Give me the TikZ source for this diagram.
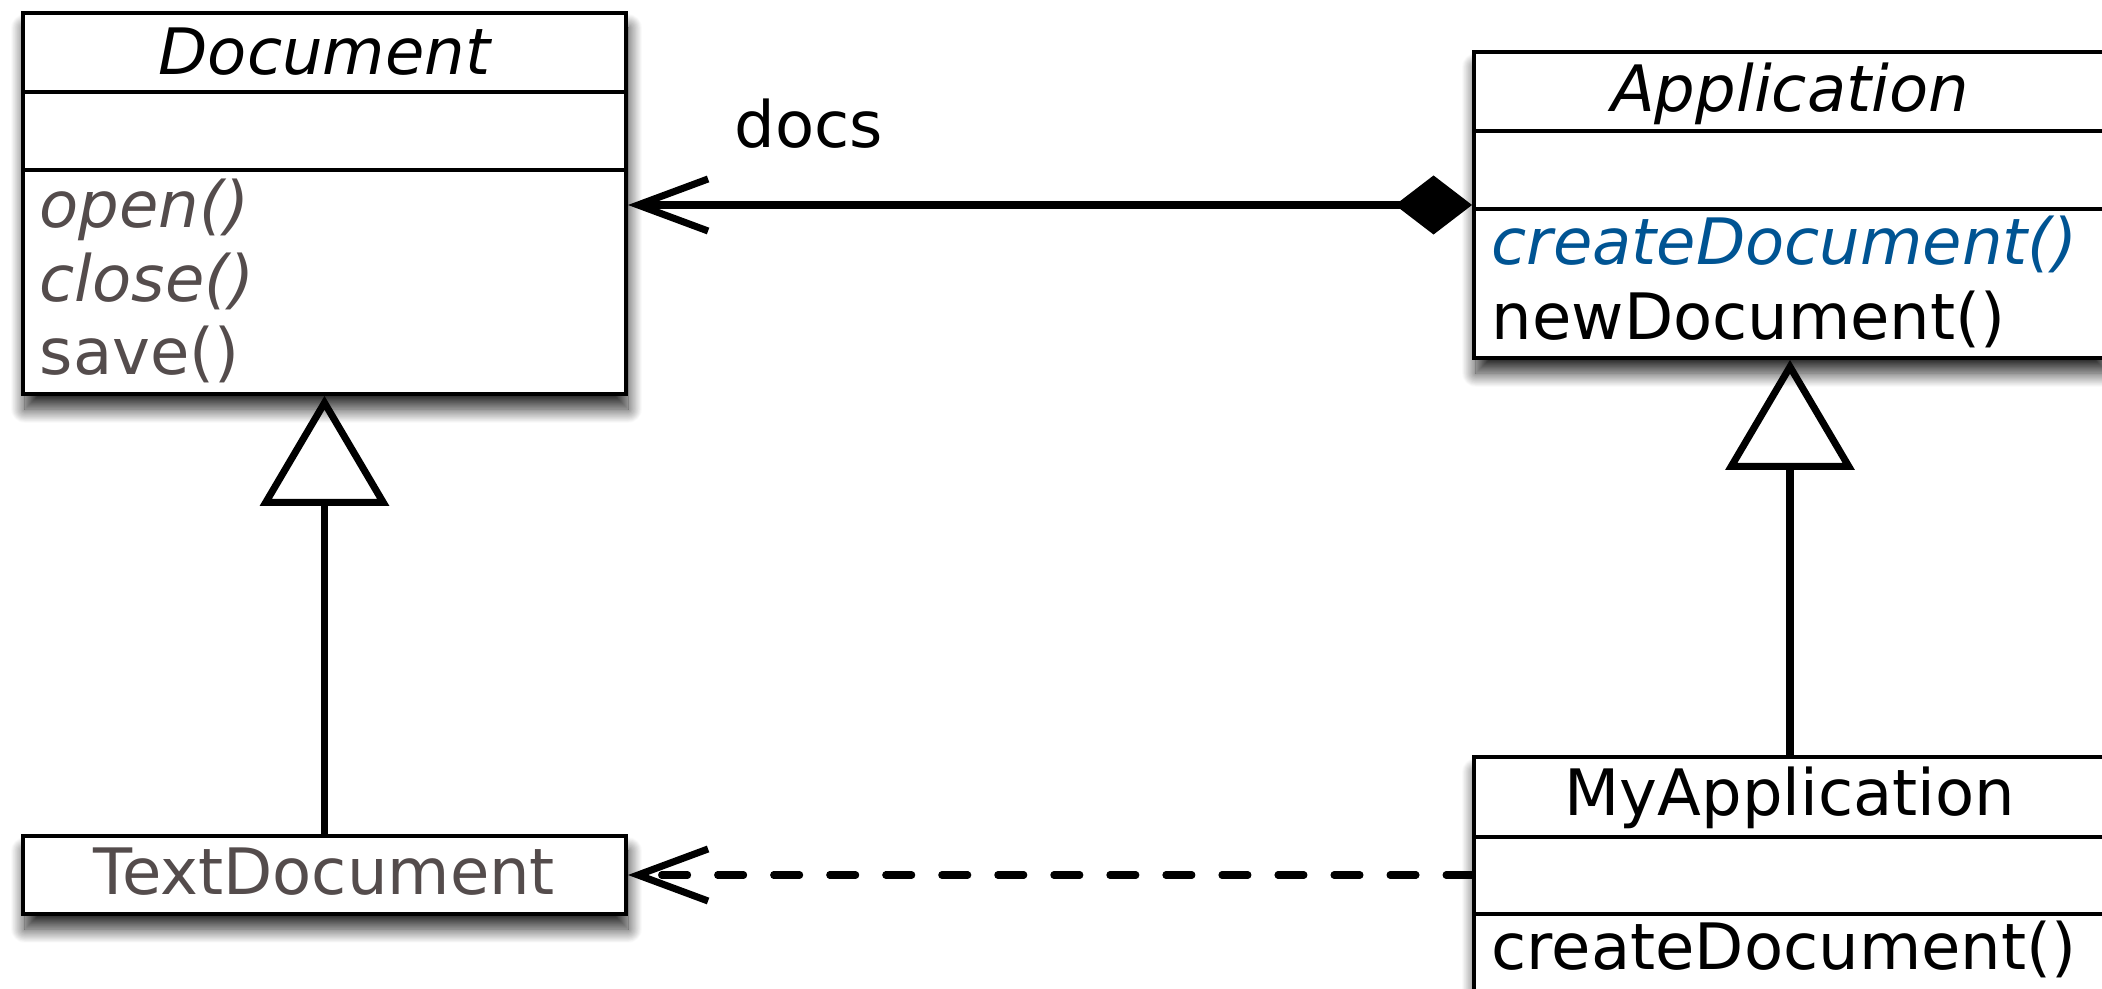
\documentclass[tikz,border=0pt]{standalone}
\usepackage{fontspec}
\setmainfont{DejaVu Sans}
\usetikzlibrary{arrows.meta,shadows.blur}
\definecolor{membergrey}{RGB}{84,76,76}
\definecolor{abstractblue}{RGB}{0,84,147}

\begin{document}
\begin{tikzpicture}[
  x=0.01cm, y=-0.01cm,
  every node/.style={inner sep=0pt, font=\fontsize{18.2pt}{21pt}\selectfont},
  classbox/.style={draw, line width=1pt, fill=white,
    blur shadow={shadow xshift=0.02cm, shadow yshift=-0.15cm, shadow blur radius=0.14cm,
      shadow blur steps=25, shadow opacity=85}},
  divider/.style={line width=1pt},
  classname/.style={anchor=base},
  member/.style={anchor=base west},
  abstract/.style={font=\fontsize{18.2pt}{21pt}\selectfont\itshape},
  connector/.style={line width=2pt},
  openarrow/.style={-{Straight Barb[length=0.7cm, width=0.52cm]}},
  inherits/.style={-{Triangle[open, length=1.1cm, width=1.28cm]}}
]
\useasboundingbox (0,0) rectangle (2102,989);
\clip (0,0) rectangle (2102,989);

% class boxes
\node[classbox, minimum width=6.03cm, minimum height=3.81cm] (document) at (324.5,203.5) {};
\node[classbox, minimum width=6.32cm, minimum height=3.06cm] (application) at (1790,205) {};
\node[classbox, minimum width=6.32cm, minimum height=2.60cm] (myapp) at (1790,887) {};
\node[classbox, minimum width=6.03cm, minimum height=0.78cm] (textdoc) at (324.5,875) {};

% compartments
\foreach \cls/\ya/\yb in {document/92/170, application/131/209, myapp/837/914} {
  \draw[divider] (\cls.west |- 0,\ya) -- (\cls.east |- 0,\ya);
  \draw[divider] (\cls.west |- 0,\yb) -- (\cls.east |- 0,\yb);
}

% names and operations
\node[classname, abstract] (docname) at (324.5,75) {Document};
\node[member, abstract, text=membergrey] (open) at (39,228) {open()};
\node[member, abstract, text=membergrey] (close) at (39,302) {close()};
\node[member, text=membergrey] (save) at (39,375) {save()};

\node[classname, abstract] (appname) at (1790,112) {Application};
\node[member, abstract, text=abstractblue] (create) at (1491,265) {createDocument()};
\node[member] (new) at (1491,340) {newDocument()};

\node[classname] (myappname) at (1790,816) {MyApplication};
\node[member] (mycreate) at (1491,970) {createDocument()};

\node[classname, text=membergrey] (textdocname) at (324.5,895) {TextDocument};

% relations
\draw[connector, {Diamond[length=0.77cm, width=0.59cm]}-{Straight Barb[length=0.7cm, width=0.52cm]}]
  (application.west |- 0,205) -- (document.east |- 0,205);
\node[member] (docs) at (734,148) {docs};

\draw[connector, inherits] (textdoc) -- (document);
\draw[connector, inherits] (myapp) -- (application);

\draw[connector, openarrow, line cap=round, dash pattern=on 0.26cm off 0.30cm]
  (myapp.west |- textdoc.east) -- (textdoc.east);
\end{tikzpicture}
\end{document}
